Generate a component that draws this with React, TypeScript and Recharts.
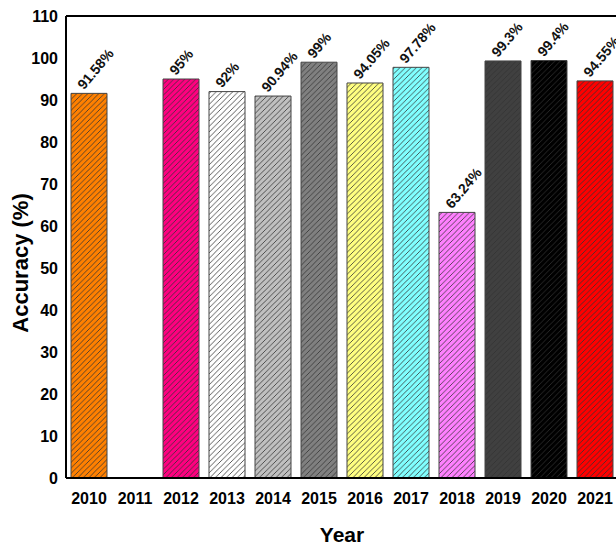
import { BarChart, Bar, XAxis, YAxis, Cell, LabelList, ReferenceLine } from 'recharts';

const years = ['2010', '2011', '2012', '2013', '2014', '2015', '2016', '2017', '2018', '2019', '2020', '2021'];
const accuracy: (number | null)[] = [91.58, null, 95, 92, 90.94, 99, 94.05, 97.78, 63.24, 99.3, 99.4, 94.55];
const labels = ['91.58%', '', '95%', '92%', '90.94%', '99%', '94.05%', '97.78%', '63.24%', '99.3%', '99.4%', '94.55%'];
const colors = ['#ff8000', '#ffffff', '#ff0080', '#ffffff', '#c0c0c0', '#808080', '#ffff80', '#80ffff', '#ff80ff', '#404040', '#000000', '#ff0000'];
const yTicks = [0, 10, 20, 30, 40, 50, 60, 70, 80, 90, 100, 110];

const data = years.map((year, i) => ({ year, accuracy: accuracy[i], label: labels[i] }));

const font = 'Arial, "Liberation Sans", sans-serif';

const RotatedLabel = (props: any) => {
  const { x, y, value } = props;
  if (!value) return null;
  return (
    <g transform={`translate(${x + 13}, ${y - 3}) rotate(-50)`}>
      <text x={0} y={0} fontSize={14} fontWeight="bold" fontFamily={font} fill="#111">
        {value}
      </text>
    </g>
  );
};

const YTitle = (props: any) => {
  const { viewBox } = props;
  const cy = viewBox.y + viewBox.height / 2 + 16;
  return (
    <text
      x={28}
      y={cy}
      transform={`rotate(-90, 28, ${cy})`}
      textAnchor="middle"
      fontSize={22}
      fontWeight="bold"
      fontFamily={font}
      fill="#000"
    >
      Accuracy (%)
    </text>
  );
};

export default function App() {
  return (
    <div style={{ position: 'absolute', left: 0, top: 0, width: 616, height: 545, overflow: 'hidden', background: '#fff' }}>
      <BarChart width={620} height={545} data={data} margin={{ top: 16, right: 2, bottom: 0, left: 0 }} barCategoryGap={5}>
        <defs>
          {colors.map((c, i) => (
            <pattern key={i} id={`hatch-${i}`} patternUnits="userSpaceOnUse" width={5.5} height={5.5}>
              <rect width={5.5} height={5.5} fill={c} />
              <path d="M0,5.5 L5.5,0 M-1,1 L1,-1 M4.5,6.5 L6.5,4.5" stroke="#333" strokeWidth={0.8} />
            </pattern>
          ))}
        </defs>
        <XAxis
          dataKey="year"
          height={67}
          axisLine={{ stroke: '#000', strokeWidth: 2 }}
          tickLine={false}
          interval={0}
          tick={{ fontSize: 16, fontWeight: 'bold', fontFamily: font, fill: '#000', dy: 7 }}
          label={{ value: 'Year', position: 'insideBottom', offset: 3, fontSize: 21, fontWeight: 'bold', fontFamily: font, fill: '#000' }}
        />
        <YAxis
          domain={[0, 110]}
          ticks={yTicks}
          width={66}
          interval={0}
          axisLine={{ stroke: '#000', strokeWidth: 2 }}
          tickLine={false}
          tick={{ fontSize: 16, fontWeight: 'bold', fontFamily: font, fill: '#000' }}
          label={<YTitle />}
        />
        <ReferenceLine y={110} stroke="#000" strokeWidth={2} />
        <Bar dataKey="accuracy" isAnimationActive={false} stroke="#444" strokeWidth={1}>
          {data.map((_, i) => (
            <Cell key={i} fill={`url(#hatch-${i})`} />
          ))}
          <LabelList dataKey="label" content={RotatedLabel} />
        </Bar>
      </BarChart>
    </div>
  );
}
